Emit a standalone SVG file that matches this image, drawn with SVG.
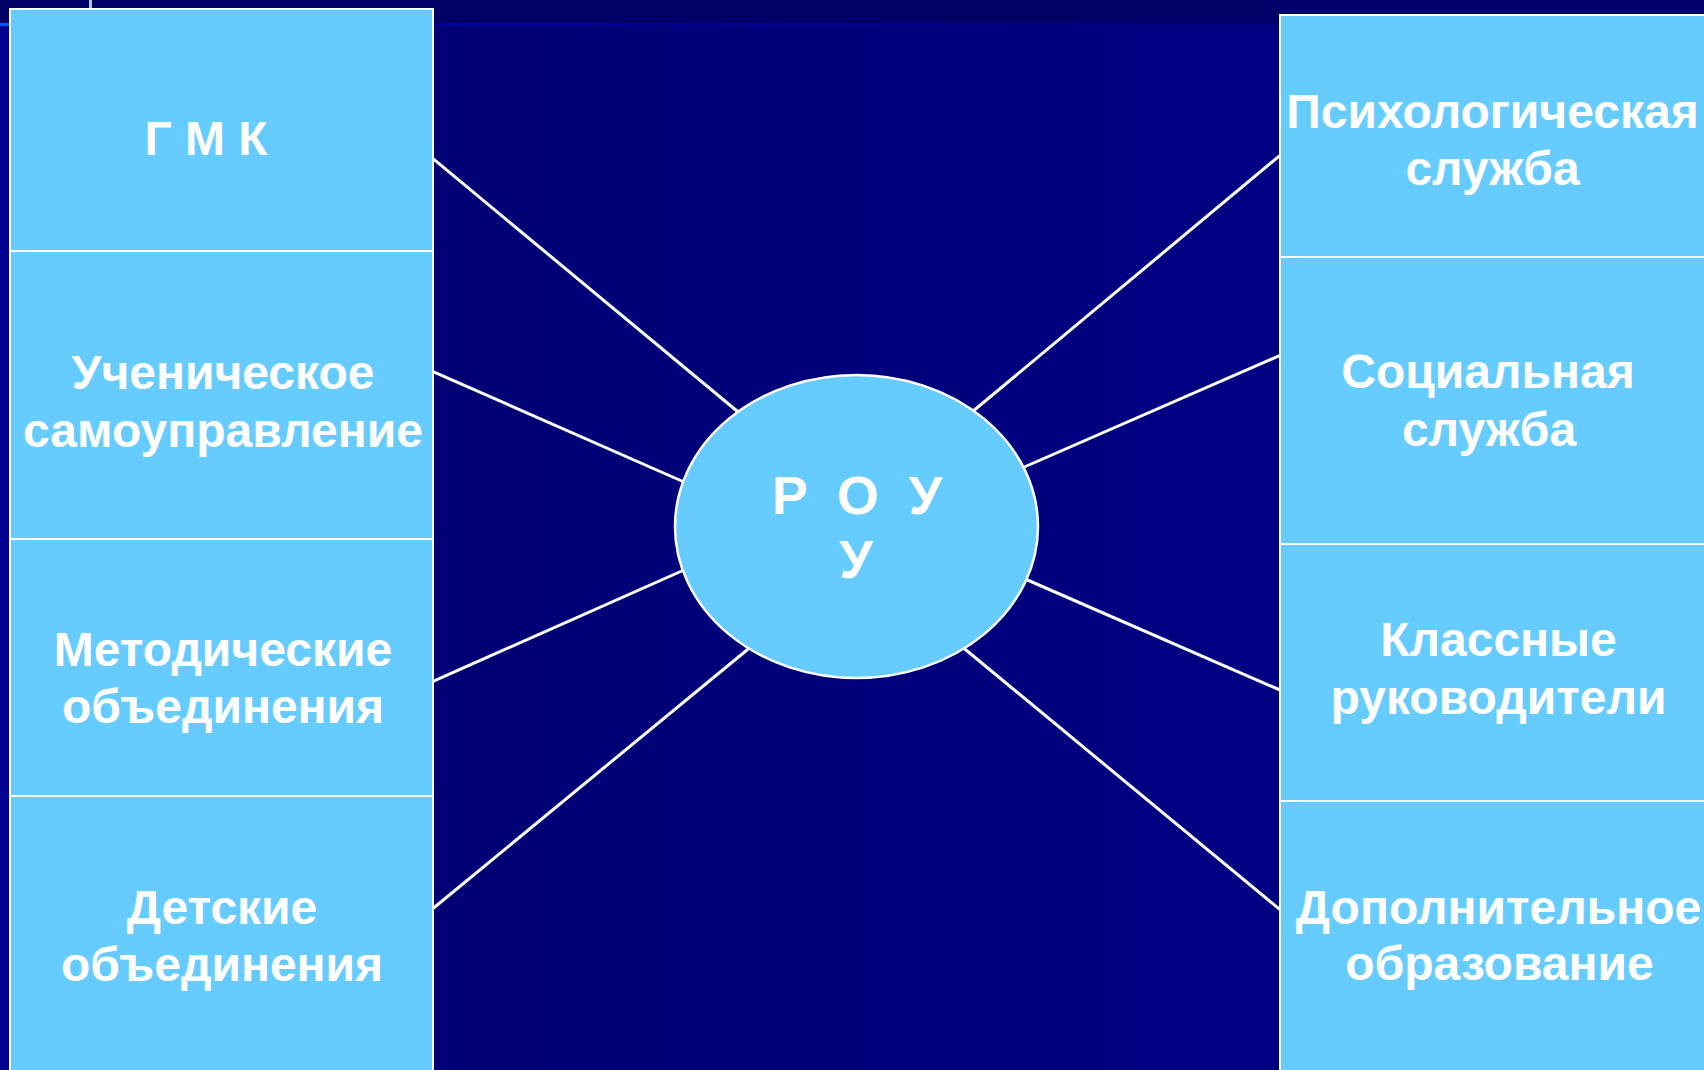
<svg xmlns="http://www.w3.org/2000/svg" width="1704" height="1070" viewBox="0 0 1704 1070">
<defs>
<linearGradient id="bg" x1="0" y1="0" x2="1" y2="0">
<stop offset="0" stop-color="#00006c"/>
<stop offset="1" stop-color="#00008a"/>
</linearGradient>
<linearGradient id="band" x1="0" y1="0" x2="1" y2="0">
<stop offset="0" stop-color="#0055ff"/>
<stop offset="0.3" stop-color="#000099"/>
<stop offset="1" stop-color="#00007a"/>
</linearGradient>
<style>
.box{fill:#66CCFF;stroke:#ffffff;stroke-width:2}
.t{font-family:"Liberation Sans",Arial,sans-serif;font-weight:bold;font-size:48px;fill:#ffffff;text-anchor:middle}
.big{font-size:54px}
.c{stroke:#ffffff;stroke-width:3;fill:none}
</style>
</defs>
<rect x="0" y="0" width="1704" height="1070" fill="url(#bg)"/>
<rect x="0" y="0" width="1704" height="23" fill="#000066"/>
<rect x="0" y="23" width="1280" height="3" fill="url(#band)"/>
<rect x="0" y="26" width="10" height="1044" fill="#000090"/>
<rect x="89" y="0" width="3" height="9" fill="#a8c8e0"/>
<g id="connectors">
<line class="c" x1="433" y1="158.7" x2="740" y2="413.5"/>
<line class="c" x1="433" y1="371.6" x2="684" y2="482"/>
<line class="c" x1="433" y1="681.4" x2="684" y2="570"/>
<line class="c" x1="433" y1="908.5" x2="750" y2="647.5"/>
<line class="c" x1="1280" y1="155.4" x2="972" y2="412"/>
<line class="c" x1="1280" y1="355.4" x2="1022" y2="468"/>
<line class="c" x1="1280" y1="690" x2="1024" y2="578.5"/>
<line class="c" x1="1280" y1="909.6" x2="963" y2="647.5"/>
</g>
<g id="gmk">
<rect class="box" x="10" y="9" width="423" height="242"/>
<text class="t" x="206" y="155">Г М К</text>
</g>
<g id="student">
<rect class="box" x="10" y="251" width="423" height="288"/>
<text class="t" x="223" y="389">Ученическое</text>
<text class="t" x="223" y="446.5">самоуправление</text>
</g>
<g id="method">
<rect class="box" x="10" y="539" width="423" height="257"/>
<text class="t" x="223" y="666">Методические</text>
<text class="t" x="223" y="723">объединения</text>
</g>
<g id="children">
<rect class="box" x="10" y="796" width="423" height="280"/>
<text class="t" x="222" y="924">Детские</text>
<text class="t" x="222" y="981">объединения</text>
</g>
<g id="psych">
<rect class="box" x="1280" y="15" width="430" height="242"/>
<text class="t" x="1492.5" y="128">Психологическая</text>
<text class="t" x="1492.5" y="185">служба</text>
</g>
<g id="social">
<rect class="box" x="1280" y="257" width="430" height="287"/>
<text class="t" x="1488" y="388">Социальная</text>
<text class="t" x="1489" y="445.5">служба</text>
</g>
<g id="class">
<rect class="box" x="1280" y="544" width="430" height="257"/>
<text class="t" x="1498.5" y="656">Классные</text>
<text class="t" x="1498.5" y="714">руководители</text>
</g>
<g id="extra">
<rect class="box" x="1280" y="801" width="430" height="275"/>
<text class="t" x="1498.5" y="924">Дополнительное</text>
<text class="t" x="1499.5" y="980">образование</text>
</g>
<g id="rou">
<ellipse cx="856.5" cy="526.5" rx="181.5" ry="151.5" fill="#66CCFF" stroke="#ffffff" stroke-width="2.5"/>
<text class="t big" x="790" y="514">Р</text>
<text class="t big" x="858" y="514">О</text>
<text class="t big" x="925.5" y="514">У</text>
<text class="t big" x="856" y="578">У</text>
</g>
</svg>
